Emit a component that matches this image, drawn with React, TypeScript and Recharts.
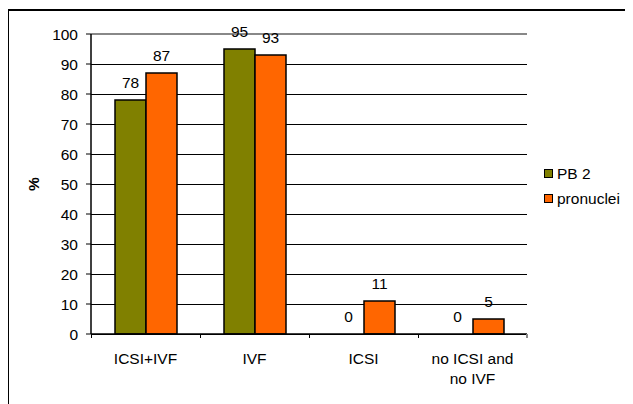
import React from "react";
import {
  BarChart,
  Bar,
  XAxis,
  YAxis,
  CartesianGrid,
  LabelList,
  ReferenceLine,
} from "recharts";

const categories = ["ICSI+IVF", "IVF", "ICSI", "no ICSI and\nno IVF"];
const pb2Values = [78, 95, 0, 0];
const pronucleiValues = [87, 93, 11, 5];
const yTicks = [0, 10, 20, 30, 40, 50, 60, 70, 80, 90, 100];
const seriesNames = ["PB 2", "pronuclei"];
const seriesColors = ["#808000", "#FF6600"];

const data = categories.map((c, i) => ({
  cat: c,
  pb2: pb2Values[i],
  pron: pronucleiValues[i],
}));

const FONT = "'Liberation Sans', Arial, sans-serif";
const FS = 15.5;

const CatTick = (props: any) => {
  const { x, y, payload, index } = props;
  const lines = String(payload.value).split("\n");
  const half = payload.offset || 54.5;
  const ay = y - 19;
  return (
    <g>
      <line x1={x - half} x2={x - half} y1={ay} y2={ay + 4} stroke="#000" shapeRendering="crispEdges" />
      {index === categories.length - 1 && (
        <line x1={x + half} x2={x + half} y1={ay} y2={ay + 4} stroke="#888" strokeWidth={2} shapeRendering="crispEdges" />
      )}
      {lines.map((l, i) => (
        <text
          key={i}
          x={x}
          y={y + i * 20}
          dy="0.71em"
          textAnchor="middle"
          fontSize={FS}
          fontFamily={FONT}
          fill="#000"
        >
          {l}
        </text>
      ))}
    </g>
  );
};

const YLabel = (props: any) => {
  const vb = props.viewBox || {};
  const cx = vb.x + 25;
  const cy = vb.y + vb.height / 2;
  return (
    <text
      x={cx}
      y={cy}
      transform={`rotate(-90 ${cx} ${cy})`}
      textAnchor="middle"
      dominantBaseline="central"
      fontSize={FS}
      fontWeight="bold"
      fontFamily={FONT}
      fill="#000"
    >
      %
    </text>
  );
};

const ValueLabel = (props: any) => {
  const { x, y, width, value } = props;
  return (
    <text
      x={Number(x) + Number(width) / 2}
      y={Number(y) - 12}
      textAnchor="middle"
      fontSize={FS}
      fontFamily={FONT}
      fill="#000"
    >
      {String(value ?? 0)}
    </text>
  );
};

// The second series' label also draws the first series' label when that
// bar has zero height (Recharts omits zero-height bars from its label list).
const PronLabel = (props: any) => {
  const { x, y, width, height, index } = props;
  const w = Number(width);
  const base = Number(y) + Number(height);
  const first = pb2Values[index];
  return (
    <g>
      <ValueLabel {...props} />
      {first === 0 && (
        <text
          x={Number(x) - w / 2}
          y={base - 12}
          textAnchor="middle"
          fontSize={FS}
          fontFamily={FONT}
          fill="#000"
        >
          {String(first)}
        </text>
      )}
    </g>
  );
};

const GridLine = (props: any) => {
  const { x1, x2, y1, y2 } = props;
  return (
    <line x1={x1} x2={x2} y1={y1} y2={y2} stroke="#000" strokeWidth={1} shapeRendering="crispEdges" />
  );
};

export default function App() {
  return (
    <div style={{ position: "relative", width: 625, height: 396, fontFamily: FONT }}>
      <div
        style={{
          position: "absolute",
          left: -1,
          top: 1,
          right: -20,
          bottom: -20,
          borderTop: "2px solid #000",
          borderLeft: "2px solid #000",
        }}
      />
      <div style={{ position: "absolute", left: 0, top: 0 }}>
        <BarChart
          width={625}
          height={396}
          data={data}
          margin={{ top: 26, right: 106, bottom: 0, left: 0 }}
          barGap={0}
          barSize={31}
        >
          <CartesianGrid vertical={false} horizontal={<GridLine />} />
          <ReferenceLine y={100} stroke="#888" strokeWidth={2} />
          <XAxis
            dataKey="cat"
            height={70}
            axisLine={{ stroke: "#000", strokeWidth: 1.5 }}
            tickLine={false}
            tickSize={0}
            tickMargin={19}
            tick={<CatTick />}
            interval={0}
          />
          <YAxis
            width={83}
            domain={[0, 100]}
            ticks={yTicks}
            interval={0}
            axisLine={{ stroke: "#000", strokeWidth: 1.5 }}
            tickLine={{ stroke: "#000" }}
            tickSize={5}
            tickMargin={8}
            tick={{ fontSize: FS, fontFamily: FONT, fill: "#000" }}
            label={<YLabel />}
          />
          <YAxis
            yAxisId="r"
            orientation="right"
            width={0}
            domain={[0, 100]}
            tick={false}
            tickLine={false}
            axisLine={{ stroke: "#888", strokeWidth: 2 }}
          />
          <Bar
            dataKey="pb2"
            name={seriesNames[0]}
            fill={seriesColors[0]}
            stroke="#000"
            strokeWidth={1.5}
            isAnimationActive={false}
          >
            <LabelList dataKey="pb2" content={<ValueLabel />} />
          </Bar>
          <Bar
            dataKey="pron"
            name={seriesNames[1]}
            fill={seriesColors[1]}
            stroke="#000"
            strokeWidth={1.5}
            isAnimationActive={false}
          >
            <LabelList dataKey="pron" content={<PronLabel />} />
          </Bar>
        </BarChart>
      </div>
      <div style={{ position: "absolute", left: 536, top: 153 }}>
        {seriesNames.map((n, i) => (
          <div
            key={n}
            style={{
              display: "flex",
              alignItems: "center",
              height: 25,
              fontSize: FS,
              fontFamily: FONT,
              color: "#000",
            }}
          >
            <span
              style={{
                display: "inline-block",
                width: 7,
                height: 7,
                background: seriesColors[i],
                border: "1px solid #000",
                marginRight: 4,
              }}
            />
            {n}
          </div>
        ))}
      </div>
    </div>
  );
}
